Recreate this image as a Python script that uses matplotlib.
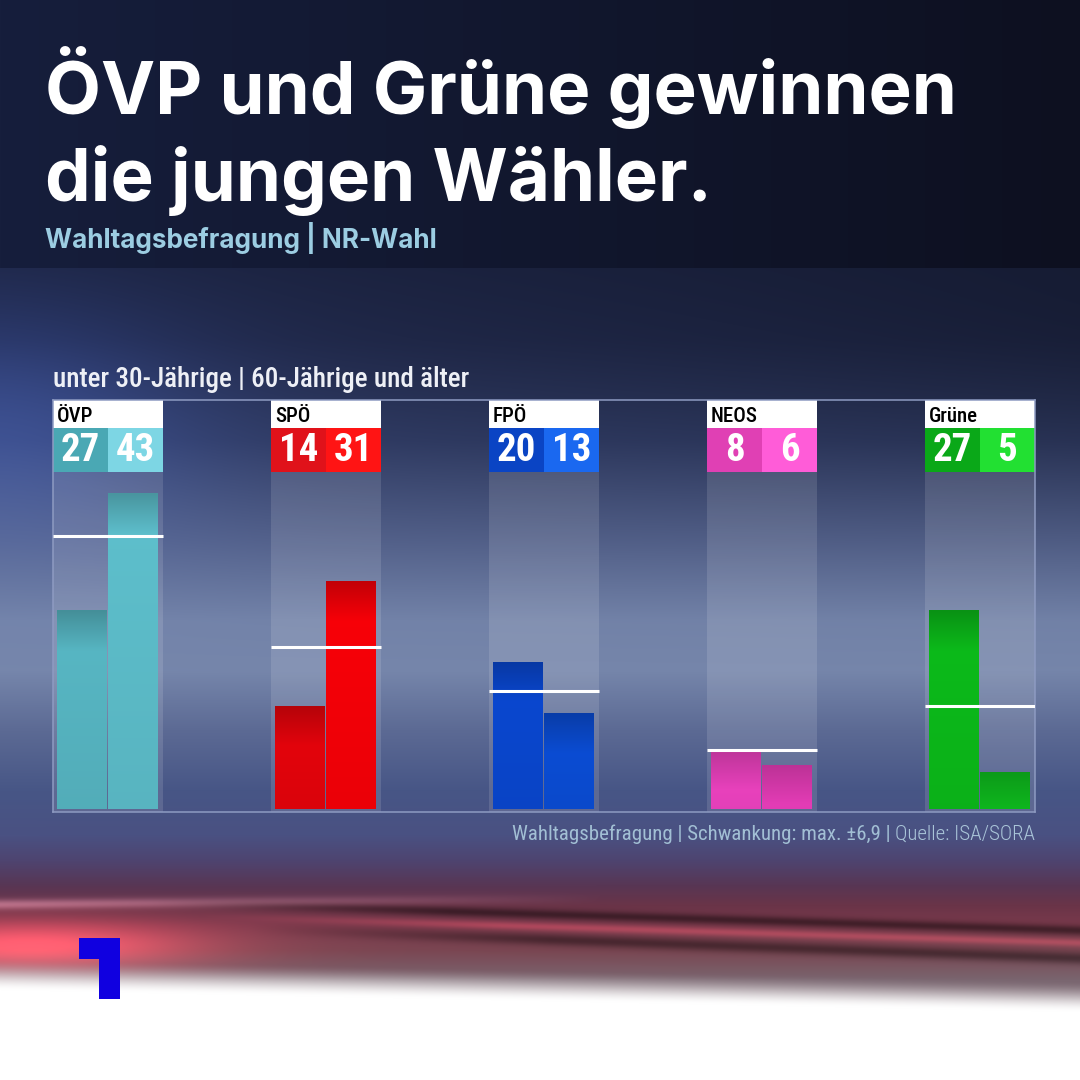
"""ÖVP und Grüne gewinnen die jungen Wähler -- Wahltagsbefragung NR-Wahl."""

import matplotlib

matplotlib.use("Agg")
import matplotlib.pyplot as plt
import numpy as np
from matplotlib.colors import to_rgb
from matplotlib.patches import Polygon

W = H = 1080
DPI = 100

# data
parties = ["ÖVP", "SPÖ", "FPÖ", "NEOS", "Grüne"]
under30 = [27, 14, 20, 8, 27]
over60 = [43, 31, 13, 6, 5]
overall = [37.1, 22.0, 16.0, 8.0, 14.0]

box_left = ["#4aa8b4", "#e0121a", "#0a44c4", "#e040b4", "#0aa818"]
box_right = ["#7dd6e4", "#ff1414", "#1a68f0", "#ff5cd8", "#22e032"]
bar_left = ["#58b8c5", "#e8040c", "#0a48d2", "#f244c4", "#0cbc1a"]
bar_right = ["#5ec0cd", "#fa0008", "#0b4ed8", "#f040c0", "#10c620"]

title_lines = ["ÖVP und Grüne gewinnen", "die jungen Wähler."]
subtitle = "Wahltagsbefragung | NR-Wahl"
legend_text = "unter 30-Jährige | 60-Jährige und älter"
source_main = "Wahltagsbefragung | Schwankung: max. ±6,9 | "
source_tail = "Quelle: ISA/SORA"

HEAD = ["Inter", "Liberation Sans", "DejaVu Sans"]
COND = ["Roboto Condensed", "DejaVu Sans Condensed", "Roboto", "DejaVu Sans"]
STRETCH = "condensed"

PX_PER_UNIT = 7.36
GROUP_STEP = 218.0
GROUP_W = 110.0 / GROUP_STEP


def fx(x):
    return x / W


def fy(y):
    return 1 - y / H


def background():
    y = np.arange(H, dtype=float)[:, None]
    x = np.arange(W, dtype=float)[None, :]
    stops_y = [268, 340, 440, 540, 620, 670, 730, 790, 835, 860, 885, 905, 925, 950, 980]
    stops_c = np.array([to_rgb(c) for c in [
        "#1e2646", "#232c50", "#323e68", "#54628c", "#7383a9", "#7686ab",
        "#5c6a94", "#475686", "#4a5182", "#4e4470", "#583654", "#6a3448",
        "#7a3a4c", "#7a4652", "#7a6670"]])
    col = np.stack([np.interp(y[:, 0], stops_y, stops_c[:, k]) for k in range(3)], axis=-1)
    img = np.repeat(col[:, None, :], W, axis=1)

    # bluish glow top left, darker top right
    glow = np.exp(-(x / 200) ** 2 - ((y - 420) / 120) ** 2)
    img += glow[..., None] * np.array([0.05, 0.08, 0.17])
    dark = (x / W) * np.exp(-((y - 330) / 170) ** 2)
    img *= (1 - 0.3 * dark)[..., None]

    # streaks in the red zone
    yc1 = 905 + (x - 250) * 0.03
    s1 = np.exp(-((y - yc1) / 5) ** 2) * np.clip((x - 150) / 300, 0, 1)
    img *= (1 - 0.45 * s1)[..., None]
    yc2 = 934 + (x - 400) * 0.035
    s2 = np.exp(-((y - yc2) / 6) ** 2) * np.clip((x - 250) / 300, 0, 1)
    img *= (1 - 0.4 * s2)[..., None]
    yc4 = 922 + (x - 400) * 0.03
    s4 = np.exp(-((y - yc4) / 4) ** 2) * np.clip((x - 200) / 300, 0, 1)
    img += (0.2 * s4)[..., None] * np.array([1.0, 0.25, 0.3])
    yc3 = 904 - (x / W) * 10
    s3 = np.exp(-((y - yc3) / 5) ** 2) * np.clip(1 - x / 600, 0, 1)
    img += (0.28 * s3)[..., None] * np.array([1.0, 0.8, 0.85])
    red = np.exp(-((x - 30) / 170) ** 2 - ((y - 945) / 24) ** 2)
    img += red[..., None] * np.array([0.55, 0.12, 0.14])

    # fade to white at the bottom
    start = 958 + 22 * (x / W)
    t = np.clip((y - start) / 32, 0, 1)
    t = t * t * (3 - 2 * t)
    img = img * (1 - t[..., None]) + t[..., None]

    # header band
    hx = np.linspace(0, 1, W)[:, None]
    header = (1 - hx) * np.array(to_rgb("#161e3c")) + hx * np.array(to_rgb("#0d1020"))
    img[:268] = header[None, :, :]
    return np.clip(img, 0, 1)


def gradient_bar(ax, bar, color):
    x0, y0 = bar.get_x(), bar.get_y()
    w, h = bar.get_width(), bar.get_height()
    if h <= 0:
        return
    n = 64
    frac = np.linspace(0, 1, n)[:, None]  # 0 = top, 1 = bottom
    shade = 0.78 + 0.22 * np.clip(frac * h * PX_PER_UNIT / 40, 0, 1) - 0.06 * frac
    rgb = np.array(to_rgb(color))[None, None, :] * shade[..., None]
    rgb = np.repeat(rgb, 2, axis=1)
    im = ax.imshow(np.clip(rgb, 0, 1), extent=(x0, x0 + w, y0, y0 + h), aspect="auto",
                   interpolation="bilinear", zorder=3)
    im.set_clip_path(bar)


fig = plt.figure(figsize=(W / DPI, H / DPI), dpi=DPI)

bg = fig.add_axes([0, 0, 1, 1], zorder=0)
bg.imshow(background(), extent=(0, W, H, 0), aspect="auto", interpolation="bilinear")
bg.set_xlim(0, W)
bg.set_ylim(H, 0)
bg.axis("off")

# ORF "1" logo
bg.add_patch(Polygon([(79, 938), (120, 938), (120, 999), (99, 999), (99, 959), (79, 959)],
                     closed=True, facecolor="#1000e0", edgecolor="none"))

# chart axes: bottom frame at 812 px (value -0.4), top frame at 400 px
ax = fig.add_axes([fx(53), fy(812), 982 / W, 412 / H], zorder=1)
ax.patch.set_alpha(0)
half = GROUP_W / 2
ax.set_xlim(-half, len(parties) - 1 + half)
ymin = -3 / PX_PER_UNIT
ymax = (809 - 400) / PX_PER_UNIT
ax.set_ylim(ymin, ymax)
ax.set_xticks([])
ax.set_yticks([])
for sp in ax.spines.values():
    sp.set_color("#8e9bc2")
    sp.set_linewidth(1.1)

plot_top = (809 - 472) / PX_PER_UNIT
box_h = 44 / PX_PER_UNIT
label_h = ymax - plot_top - box_h
xs = np.arange(len(parties))

# lighter party columns
ax.bar(xs, plot_top - ymin, width=GROUP_W, bottom=ymin, color="white", alpha=0.12,
       linewidth=0, zorder=1)

# value boxes and label boxes
ax.bar(xs - half / 2, box_h, width=half, bottom=plot_top, color=box_left, linewidth=0, zorder=2)
ax.bar(xs + half / 2, box_h, width=half, bottom=plot_top, color=box_right, linewidth=0, zorder=2)
ax.bar(xs, label_h, width=GROUP_W, bottom=plot_top + box_h, color="white", linewidth=0, zorder=2)

bar_w = 50 / GROUP_STEP
off = 25.5 / GROUP_STEP
bars_l = ax.bar(xs - off, under30, width=bar_w, color=bar_left, linewidth=0, zorder=3)
bars_r = ax.bar(xs + off, over60, width=bar_w, color=bar_right, linewidth=0, zorder=3)
for b, c in zip(bars_l, bar_left):
    gradient_bar(ax, b, c)
for b, c in zip(bars_r, bar_right):
    gradient_bar(ax, b, c)

ax.hlines(overall, xs - half, xs + half, color="white", linewidth=2.2, zorder=4)

for i, p in enumerate(parties):
    ax.text(i - half + 4 / GROUP_STEP, plot_top + box_h + label_h * 0.40, p, ha="left",
            va="center", fontsize=15, fontweight="medium", color="black", family=COND,
            fontstretch=STRETCH, zorder=5)
    ax.text(i - half / 2, plot_top + box_h / 2, str(under30[i]), ha="center", va="center",
            fontsize=28, fontweight="bold", color="white", family=COND,
            fontstretch=STRETCH, zorder=5)
    ax.text(i + half / 2, plot_top + box_h / 2, str(over60[i]), ha="center", va="center",
            fontsize=28, fontweight="bold", color="white", family=COND,
            fontstretch=STRETCH, zorder=5)

# header texts
for line, base in zip(title_lines, [114, 201]):
    fig.text(fx(45), fy(base), line, fontsize=52.3, fontweight="bold", color="white",
             family=HEAD, va="baseline", ha="left")
fig.text(fx(45), fy(248), subtitle, fontsize=18.8, fontweight="bold", color="#9ccde2",
         family=HEAD, va="baseline", ha="left")

fig.text(fx(53), fy(387), legend_text, fontsize=19.5, fontweight="medium", color="#eef0f6",
         family=COND, fontstretch=STRETCH, va="baseline", ha="left")

tail = fig.text(fx(1035), fy(840), source_tail, fontsize=15, color="#a9c4d8", family=COND,
                fontstretch=STRETCH, fontweight="light", va="baseline", ha="right")
fig.canvas.draw()
bb = tail.get_window_extent()
fig.text(bb.x0 / W, fy(840), source_main, fontsize=15, color="#a2bfd4", family=COND,
         fontstretch=STRETCH, fontweight="normal", va="baseline", ha="right")

fig.savefig("out.png", dpi=DPI)
